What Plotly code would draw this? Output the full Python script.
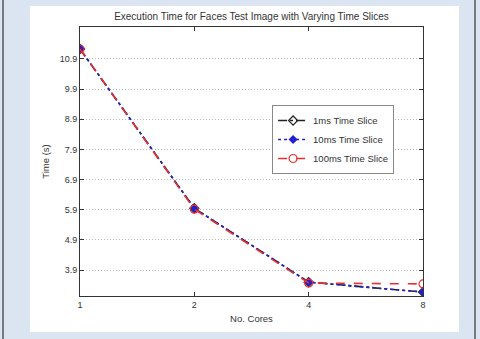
import plotly.graph_objects as go

cores = [1, 2, 4, 8]
t_1ms = [11.23, 5.95, 3.50, 3.17]
t_10ms = [11.23, 5.95, 3.50, 3.17]
t_100ms = [11.23, 5.92, 3.47, 3.44]
ytick_vals = [3.9, 4.9, 5.9, 6.9, 7.9, 8.9, 9.9, 10.9]
ytick_text = ["3.9", "4.9", "5.9", "6.9", "7.9", "8.9", "9.9", "10.9"]
xtick_vals = [1, 2, 4, 8]
xtick_text = ["1", "2", "4", "8"]

FONT = "Liberation Sans, Arial, sans-serif"

fig = go.Figure()
fig.add_trace(go.Scatter(
    x=cores, y=t_1ms, name="1ms Time Slice", mode="lines+markers",
    line=dict(color="#222222", dash="dashdot", width=1.6),
    marker=dict(symbol="diamond-open", size=7, color="#222222", line=dict(width=1.2))))
fig.add_trace(go.Scatter(
    x=cores, y=t_10ms, name="10ms Time Slice", mode="lines+markers",
    line=dict(color="#2020d0", dash="dot", width=1.6),
    marker=dict(symbol="diamond", size=7, color="#2020d0")))
fig.add_trace(go.Scatter(
    x=cores, y=t_100ms, name="100ms Time Slice", mode="lines+markers",
    line=dict(color="#e83030", dash="dash", width=1.6),
    marker=dict(symbol="circle-open", size=8, color="#e83030", line=dict(width=1.2))))

# white figure panel and outer border lines
fig.add_shape(type="rect", xref="paper", yref="paper",
              x0=-0.146, x1=1.105, y0=-0.134, y1=1.078,
              fillcolor="white", line=dict(width=0), layer="below")
for xp in (-0.2245, 1.1516):
    fig.add_shape(type="line", xref="paper", yref="paper",
                  x0=xp, x1=xp, y0=-0.2, y1=1.2,
                  line=dict(color="#555555", width=1.5))

fig.update_layout(
    width=480, height=339,
    margin=dict(l=80, r=57, t=27, b=43),
    paper_bgcolor="#dbe5f1", plot_bgcolor="white",
    font=dict(family=FONT, size=9, color="#333333"),
    title=dict(text="Execution Time for Faces Test Image with Varying Time Slices",
               x=0.5, xanchor="center", xref="paper", y=0.95, yanchor="middle",
               font=dict(size=10, color="#333333")),
    showlegend=True,
    legend=dict(x=0.56, y=0.71, xanchor="left", yanchor="top",
                bgcolor="white", bordercolor="#888888", borderwidth=1,
                font=dict(size=9.5), tracegroupgap=0, itemwidth=30),
)
fig.update_xaxes(type="log", range=[0, 0.90309],
                 tickvals=xtick_vals, ticktext=xtick_text,
                 showgrid=False, showline=True, linecolor="#333333", linewidth=1,
                 mirror="ticks", ticks="inside", ticklen=4, tickcolor="#333333",
                 title=dict(text="No. Cores", standoff=6, font=dict(size=9.5)),
                 zeroline=False)
fig.update_yaxes(range=[3.04, 11.96],
                 tickvals=ytick_vals, ticktext=ytick_text,
                 showgrid=True, gridcolor="#b8b8b8", griddash="1px,2px", gridwidth=1,
                 showline=True, linecolor="#333333", linewidth=1,
                 mirror="ticks", ticks="inside", ticklen=4, tickcolor="#333333",
                 title=dict(text="Time (s)", standoff=8, font=dict(size=9.5)),
                 zeroline=False)

fig.write_html("out.html", config={"displayModeBar": False},
               post_script="document.body.style.margin='0';document.body.style.overflow='hidden';")
